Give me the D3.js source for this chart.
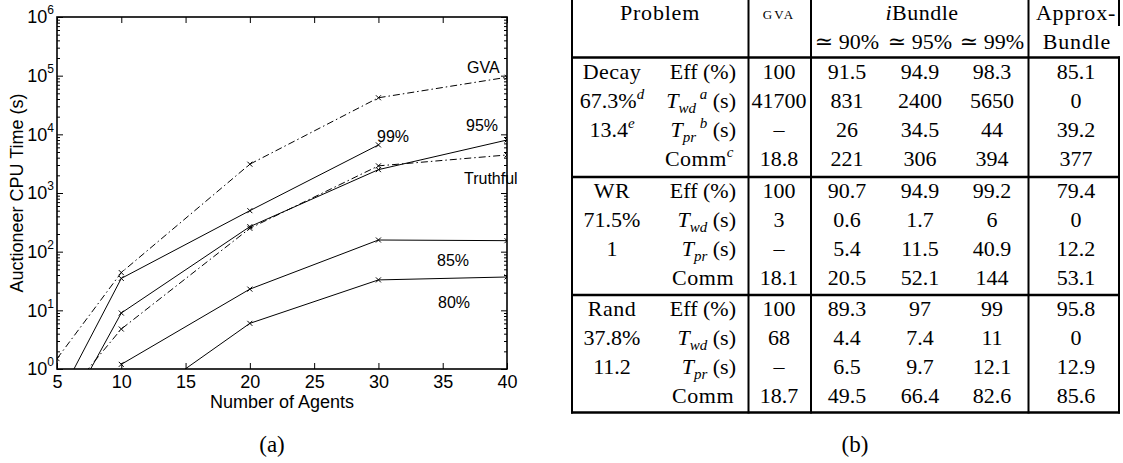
<!DOCTYPE html>
<html>
<head>
<meta charset="utf-8">
<script src="https://cdn.jsdelivr.net/npm/d3@7"></script>
<style>
  html, body { margin: 0; padding: 0; background: #fff; }
  svg { display: block; }
  .serif { font-family: "Liberation Serif", "DejaVu Serif", serif; }
  .sans { font-family: "Liberation Sans", Arial, "DejaVu Sans", sans-serif; }
</style>
</head>
<body>
<svg id="chart" width="1123" height="463"></svg>
<script>
// ---------------- data: chart (a) ----------------
const agents = [5, 10, 20, 30, 40];
const xTicks = [5, 10, 15, 20, 25, 30, 35, 40];
const yDecades = [1, 10, 100, 1000, 10000, 100000, 1000000];
const gvaTime      = [1.5, 44, 3100, 42000, 94000];
const truthfulTime = [0.23, 4.8, 250, 2900, 4450];
const eff99Time    = [0.28, 35, 500, 6600];          // agents 5..30
const eff95Time    = [0.09, 9, 267, 2500, 8000];
const eff85Agents  = [10, 20, 30, 40];
const eff85Time    = [1.2, 23, 158, 154];
const eff80Agents  = [10, 20, 30, 40];
const eff80Time    = [0.17, 6, 33, 37];
const seriesNames  = ["GVA", "95%", "99%", "Truthful", "85%", "80%"];

// ---------------- data: table (b) ----------------
const problems     = ["Decay", "WR", "Rand"];
const problemStatA = ["67.3%", "71.5%", "37.8%"];
const problemStatB = ["13.4", "1", "11.2"];
const decayNotes   = ["d", "e"];
const metricNotes  = ["", "a", "b", "c"];
const gvaCol  = [[100, 41700, null, 18.8], [100, 3, null, 18.1], [100, 68, null, 18.7]];
const ib90Col = [[91.5, 831, 26, 221], [90.7, 0.6, 5.4, 20.5], [89.3, 4.4, 6.5, 49.5]];
const ib95Col = [[94.9, 2400, 34.5, 306], [94.9, 1.7, 11.5, 52.1], [97, 7.4, 9.7, 66.4]];
const ib99Col = [[98.3, 5650, 44, 394], [99.2, 6, 40.9, 144], [99, 11, 12.1, 82.6]];
const apxCol  = [[85.1, 0, 39.2, 377], [79.4, 0, 12.2, 53.1], [95.8, 0, 12.9, 85.6]];
const ibLevels = ["90%", "95%", "99%"];

const svg = d3.select("#chart");

// ================= chart (a) =================
const P = {l: 57, r: 507, t: 17, b: 369};
const x = d3.scaleLinear().domain([5, 40]).range([P.l, P.r]);
const y = d3.scaleLog().domain([1, 1e6]).range([P.b, P.t]);

const gA = svg.append("g").attr("class", "sans");

svg.append("defs").append("clipPath").attr("id", "plotclip")
  .append("rect").attr("x", P.l).attr("y", P.t).attr("width", P.r - P.l).attr("height", P.b - P.t);

const minor = [];
yDecades.slice(0, -1).forEach(d => { for (let k = 2; k <= 9; k++) minor.push(d * k); });

function styleAxis(g) {
  g.attr("font-family", null);
  g.select(".domain").remove();
  g.selectAll(".tick line").attr("stroke", "#000").attr("stroke-width", 1);
}

// minor ticks left/right
gA.append("g").attr("transform", `translate(${P.l},0)`)
  .call(d3.axisLeft(y).tickValues(minor).tickSize(-3).tickSizeOuter(0).tickFormat(""))
  .call(styleAxis);
gA.append("g").attr("transform", `translate(${P.r},0)`)
  .call(d3.axisRight(y).tickValues(minor).tickSize(-3).tickSizeOuter(0).tickFormat(""))
  .call(styleAxis);
// major y
const yl = gA.append("g").attr("transform", `translate(${P.l},0)`)
  .call(d3.axisLeft(y).tickValues(yDecades).tickSize(-6).tickSizeOuter(0).tickPadding(3).tickFormat(""))
  .call(styleAxis);
yl.selectAll(".tick text").each(function(d) {
  const t = d3.select(this).attr("font-size", 18).attr("fill", "#000");
  t.text("10");
  t.append("tspan").attr("dy", -9).attr("font-size", 12).text(Math.round(Math.log10(d)));
});
gA.append("g").attr("transform", `translate(${P.r},0)`)
  .call(d3.axisRight(y).tickValues(yDecades).tickSize(-6).tickSizeOuter(0).tickFormat(""))
  .call(styleAxis);
// x axes
gA.append("g").attr("transform", `translate(0,${P.b})`)
  .call(d3.axisBottom(x).tickValues(xTicks).tickSize(-6).tickSizeOuter(0).tickPadding(6).tickFormat(d3.format("d")))
  .call(styleAxis)
  .call(g => g.selectAll(".tick text").attr("font-size", 18).attr("fill", "#000"));
gA.append("g").attr("transform", `translate(0,${P.t})`)
  .call(d3.axisTop(x).tickValues(xTicks).tickSize(-6).tickSizeOuter(0).tickFormat(""))
  .call(styleAxis);

// box
gA.append("rect").attr("x", P.l).attr("y", P.t).attr("width", P.r - P.l).attr("height", P.b - P.t)
  .attr("fill", "none").attr("stroke", "#000").attr("stroke-width", 1.6);

// series
const series = [
  {xs: agents, ys: gvaTime, dash: "7,3,1.5,3"},
  {xs: agents, ys: truthfulTime, dash: "7,3,1.5,3"},
  {xs: agents.slice(0, 4), ys: eff99Time, dash: null},
  {xs: agents, ys: eff95Time, dash: null},
  {xs: eff85Agents, ys: eff85Time, dash: null},
  {xs: eff80Agents, ys: eff80Time, dash: null}
];
const line = d3.line().x(d => x(d[0])).y(d => y(d[1]));
const gL = gA.append("g").attr("clip-path", "url(#plotclip)");
series.forEach(s => {
  const pts = s.xs.map((a, i) => [a, s.ys[i]]);
  gL.append("path").datum(pts).attr("d", line)
    .attr("fill", "none").attr("stroke", "#000").attr("stroke-width", 1)
    .attr("stroke-dasharray", s.dash);
  gL.selectAll(null).data(pts).enter().append("path")
    .attr("d", d => { const cx = x(d[0]), cy = y(d[1]), h = 2.5;
      return `M${cx-h},${cy-h}L${cx+h},${cy+h}M${cx-h},${cy+h}L${cx+h},${cy-h}`; })
    .attr("stroke", "#000").attr("stroke-width", 1);
});

// series labels
const labelPos = [[467, 73], [466, 131], [377, 142], [464, 184], [437, 266], [438, 308]];
seriesNames.forEach((n, i) => {
  gA.append("text").attr("x", labelPos[i][0]).attr("y", labelPos[i][1])
    .attr("font-size", 16).text(n);
});

// axis titles
gA.append("text").attr("x", (P.l + P.r) / 2).attr("y", 408).attr("text-anchor", "middle")
  .attr("font-size", 18).text("Number of Agents");
gA.append("text").attr("transform", `translate(23,${(P.t + P.b) / 2}) rotate(-90)`)
  .attr("text-anchor", "middle").attr("font-size", 18).text("Auctioneer CPU Time (s)");

svg.append("text").attr("class", "serif").attr("x", 272).attr("y", 452).attr("text-anchor", "middle")
  .attr("font-size", 23).text("(a)");

// ================= table (b) =================
const gT = svg.append("g").attr("class", "serif").attr("font-size", 22).attr("fill", "#000");
const T = {l: 572, c1: 748.5, c2: 811, c3: 1028.5, r: 1119, top: 0, hdr: 57.5, bot: 412.5};
const groupLines = [57.5, 177, 295, 412.5];
const colX = {p1: 612, p2: 736, gva: 779, ib: [847, 920, 992], apx: 1076};

function rich(sel, parts) {
  let shift = 0;
  parts.forEach(([t, k]) => {
    const target = k === "sub" ? 5 : (k === "sup" ? -9 : 0);
    const ts = sel.append("tspan").text(t).attr("dy", target - shift);
    shift = target;
    if (k === "sub" || k === "sup") ts.attr("font-size", 15);
    if (k === "i" || k === "sub" || k === "sup") ts.attr("font-style", "italic");
  });
  return sel;
}
function txt(xp, yc, anchor, parts) {
  const t = gT.append("text").attr("x", xp).attr("y", yc + 7).attr("text-anchor", anchor);
  return rich(t, parts);
}

// lines
const L = (x1, y1, x2, y2, w) => gT.append("line").attr("x1", x1).attr("y1", y1).attr("x2", x2).attr("y2", y2)
  .attr("stroke", "#000").attr("stroke-width", w);
[T.l, T.c1, T.c2, T.c3].forEach(xv => L(xv, T.top, xv, T.bot + 1, 2));
L(T.r, T.top, T.r, 26, 2);
L(T.r, T.hdr - 1, T.r, T.bot + 1, 2);
groupLines.forEach(yv => L(T.l - 1, yv, T.r + 1, yv, 2.5));

// header
txt(660, 13, "middle", [["Problem", "n"]]).attr("letter-spacing", 0.8);
gT.append("text").attr("x", colX.gva).attr("y", 19).attr("text-anchor", "middle")
  .attr("font-size", 13).attr("letter-spacing", 2).text("GVA");
txt(922, 13, "middle", [["i", "i"], ["Bundle", "n"]]).attr("letter-spacing", 0.5);
ibLevels.forEach((lv, i) => txt(colX.ib[i], 42, "middle", [["\u2243 " + lv, "n"]]));
txt(1076, 13, "middle", [["Approx-", "n"]]).attr("letter-spacing", 0.8);
txt(1077, 42, "middle", [["Bundle", "n"]]).attr("letter-spacing", 0.8);

// body
const fmt = v => v === null ? "\u2013" : String(v);
problems.forEach((p, gi) => {
  const y0 = groupLines[gi] + 14;
  const rowY = i => y0 + 29 * i;
  const isDecay = gi === 0;
  txt(colX.p1, rowY(0), "middle", [[p, "n"]]).attr("letter-spacing", 0.5);
  txt(colX.p1, rowY(1), "middle", isDecay ? [[problemStatA[gi], "n"], [decayNotes[0], "sup"]] : [[problemStatA[gi], "n"]]);
  txt(colX.p1, rowY(2), "middle", isDecay ? [[problemStatB[gi], "n"], [decayNotes[1], "sup"]] : [[problemStatB[gi], "n"]]);
  const note = i => isDecay ? metricNotes[i] : "";
  txt(colX.p2, rowY(0), "end", [["Eff (%)", "n"]]);
  txt(colX.p2, rowY(1), "end", note(1) ? [["T", "i"], ["wd", "sub"], [" " + note(1), "sup"], [" (s)", "n"]] : [["T", "i"], ["wd", "sub"], [" (s)", "n"]]);
  txt(colX.p2, rowY(2), "end", note(2) ? [["T", "i"], ["pr", "sub"], [" " + note(2), "sup"], [" (s)", "n"]] : [["T", "i"], ["pr", "sub"], [" (s)", "n"]]);
  txt(colX.p2 - 2, rowY(3), "end", note(3) ? [["Comm", "n"], [note(3), "sup"]] : [["Comm", "n"]]).attr("letter-spacing", 0.5);
  for (let r = 0; r < 4; r++) {
    txt(colX.gva, rowY(r), "middle", [[fmt(gvaCol[gi][r]), "n"]]);
    txt(colX.ib[0], rowY(r), "middle", [[fmt(ib90Col[gi][r]), "n"]]);
    txt(colX.ib[1], rowY(r), "middle", [[fmt(ib95Col[gi][r]), "n"]]);
    txt(colX.ib[2], rowY(r), "middle", [[fmt(ib99Col[gi][r]), "n"]]);
    txt(colX.apx, rowY(r), "middle", [[fmt(apxCol[gi][r]), "n"]]);
  }
});

svg.append("text").attr("class", "serif").attr("x", 855).attr("y", 452).attr("text-anchor", "middle")
  .attr("font-size", 23).text("(b)");
</script>
</body>
</html>
